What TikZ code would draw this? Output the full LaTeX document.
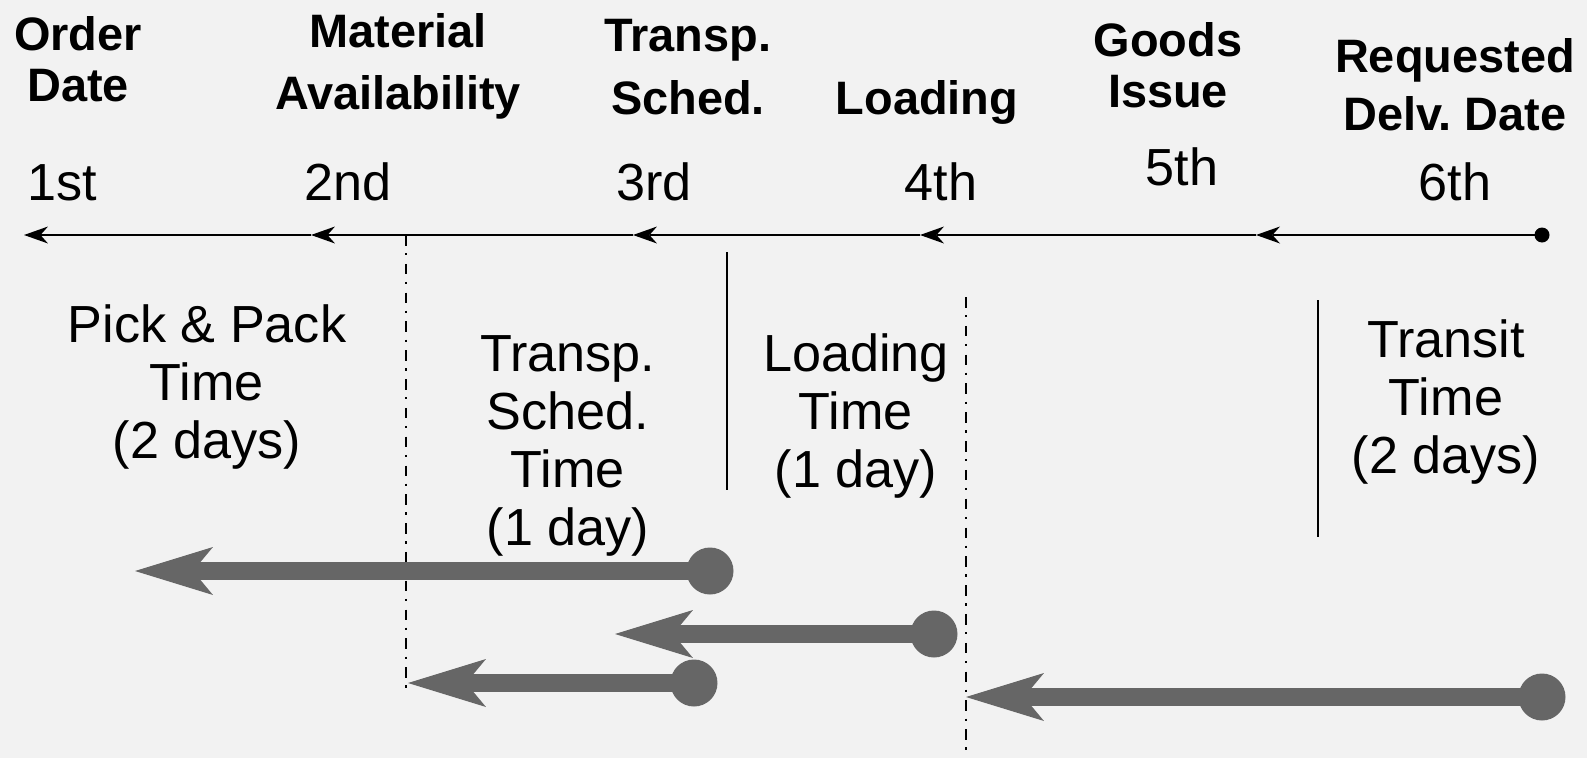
\documentclass[tikz,border=0pt]{standalone}
\usepackage{fontspec}
\setmainfont{Liberation Sans}
\usetikzlibrary{arrows.meta}
\definecolor{bgc}{HTML}{F2F2F2}
\definecolor{garr}{HTML}{666666}
\frenchspacing
\begin{document}
\begin{tikzpicture}[x=0.02cm,y=-0.02cm,
  hdr/.style={font=\fontsize{26.7pt}{30pt}\bfseries\selectfont, align=center, anchor=base, inner sep=0pt},
  ord/.style={font=\fontsize{29.7pt}{33pt}\selectfont, anchor=base, inner sep=0pt},
  body/.style={font=\fontsize{29.7pt}{33pt}\selectfont, align=center, anchor=base, inner sep=0pt},
  tl/.style={line width=1.4pt, -{Stealth[length=0.48cm, width=0.34cm, inset=0.15cm, line width=0pt]}},
  dashdot/.style={line width=1.3pt, dash pattern=on 6pt off 4.3pt on 1.3pt off 4.8pt},
  sep/.style={line width=1.3pt},
  garrow/.style={draw=garr, line width=10pt, -{Stealth[length=1.56cm, width=0.96cm, inset=0.4cm, line width=0pt]}},
  gdot/.style={circle, fill=garr, inner sep=0pt, minimum size=0.94cm},
  tdot/.style={circle, fill=black, inner sep=0pt, minimum size=0.3cm}]
\fill[bgc] (0,0) rectangle (1587,758);
\useasboundingbox (0,0) rectangle (1587,758);

% header labels (anchor = baseline of last line)
\node[hdr, font=\fontsize{26.7pt}{28.5pt}\bfseries\selectfont] (hOrder) at (78,101) {Order\\Date};
\node[hdr, font=\fontsize{26.7pt}{35pt}\bfseries\selectfont] (hMat) at (398,109) {Material\\Availability};
\node[hdr, font=\fontsize{26.7pt}{35.8pt}\bfseries\selectfont] (hTra) at (688,114) {Transp.\\Sched.};
\node[hdr] (hLoad) at (927,114) {Loading};
\node[hdr, font=\fontsize{26.7pt}{28.5pt}\bfseries\selectfont] (hGoods) at (1168,107) {Goods\\Issue};
\node[hdr, font=\fontsize{26.7pt}{33pt}\bfseries\selectfont] (hReq) at (1455,130) {Requested\\Delv. Date};

% ordinals
\node[ord] (o1) at (62,200) {1st};
\node[ord] (o2) at (348,200) {2nd};
\node[ord] (o3) at (654,200) {3rd};
\node[ord] (o4) at (941,200) {4th};
\node[ord] (o5) at (1182,185) {5th};
\node[ord] (o6) at (1455,200) {6th};

% timeline
\coordinate (t1) at (24,235);
\coordinate (t2) at (311,235);
\coordinate (t3) at (633,235);
\coordinate (t4) at (920,235);
\coordinate (t5) at (1256,235);
\node[tdot] (t6) at (1542,235) {};
\draw[tl] (t6.center) -- (t5);
\draw[tl] (t5) -- (t4);
\draw[tl] (t4) -- (t3);
\draw[tl] (t3) -- (t2);
\draw[tl] (t2) -- (t1);

% separators
\coordinate (v1a) at (406,235);
\coordinate (v1b) at (406,696);
\draw[dashdot] (v1a) -- (v1b);
\coordinate (v2a) at (966,297);
\coordinate (v2b) at (966,758);
\draw[dashdot] (v2a) -- (v2b);
\coordinate (s1a) at (727,252);
\coordinate (s1b) at (727,490);
\draw[sep] (s1a) -- (s1b);
\coordinate (s2a) at (1318,300);
\coordinate (s2b) at (1318,537);
\draw[sep] (s2a) -- (s2b);

% body texts (anchor = baseline of last line)
\node[body] (pp) at (207,458) {Pick \& Pack\\Time\\(2 days)};
\node[body] (ts) at (568,545) {Transp.\\Sched.\\Time\\(1 day)};
\node[body] (lt) at (856,487) {Loading\\Time\\(1 day)};
\node[body] (tt) at (1446,473) {Transit\\Time\\(2 days)};

% gray arrows
\node[gdot] (d1) at (710,571) {};
\coordinate (a1) at (135,571);
\draw[garrow] (d1.center) -- (a1);
\node[gdot] (d2) at (934,634) {};
\coordinate (a2) at (615,634);
\draw[garrow] (d2.center) -- (a2);
\node[gdot] (d3) at (694,683) {};
\coordinate (a3) at (408,683);
\draw[garrow] (d3.center) -- (a3);
\node[gdot] (d4) at (1542,697) {};
\coordinate (a4) at (966,697);
\draw[garrow] (d4.center) -- (a4);
\end{tikzpicture}
\end{document}
